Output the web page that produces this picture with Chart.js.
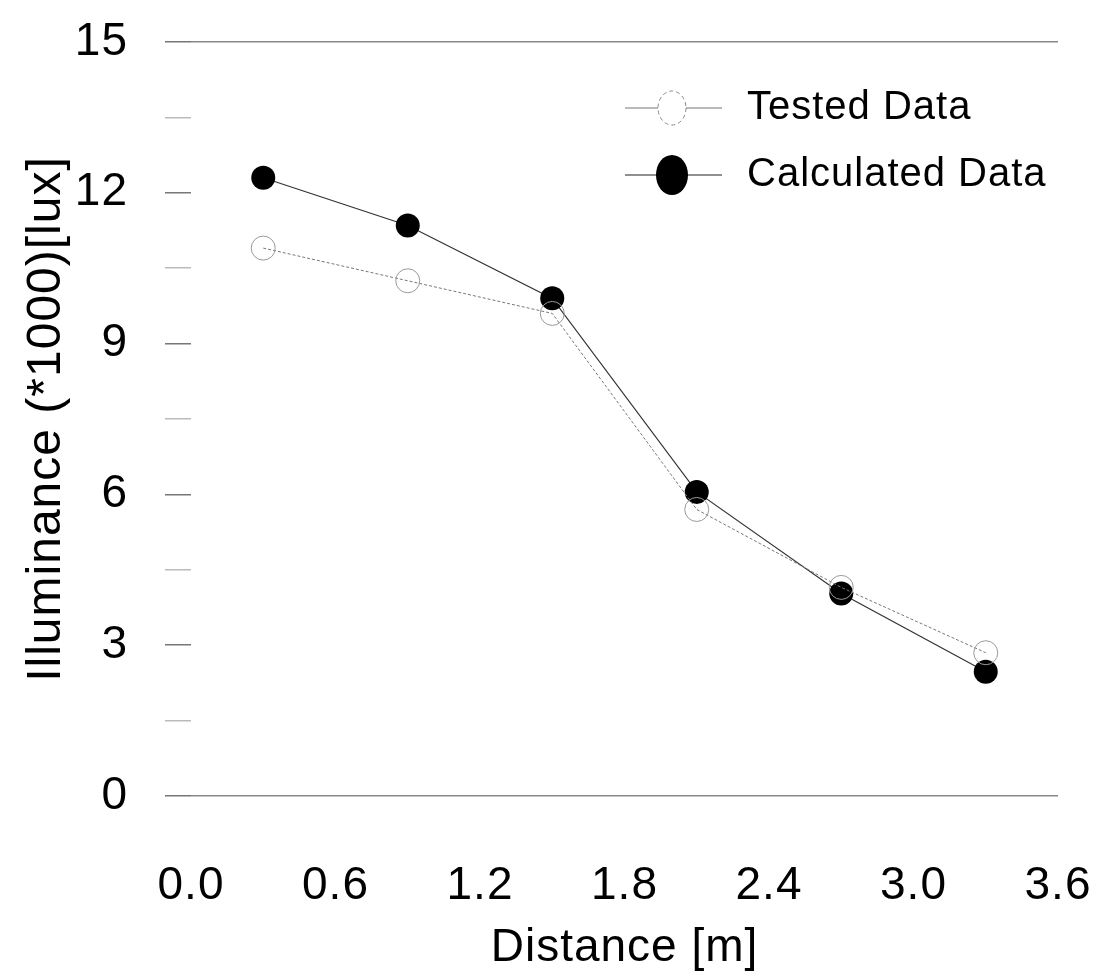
<!DOCTYPE html>
<html><head><meta charset="utf-8">
<script src="https://cdn.jsdelivr.net/npm/chart.js@4/dist/chart.umd.min.js"></script>
<style>html,body{margin:0;padding:0;background:#fff;}#wrap{width:1116px;height:971px;}</style>
</head><body><div id="wrap"><canvas id="c" width="1116" height="971"></canvas></div>
<script>
const distances = [0.3, 0.9, 1.5, 2.1, 2.7, 3.3];
const testedData = [10.9, 10.25, 9.6, 5.7, 4.15, 2.85];
const calculatedData = [12.3, 11.35, 9.9, 6.05, 4.03, 2.47];
const xTickLabels = ['0.0', '0.6', '1.2', '1.8', '2.4', '3.0', '3.6'];
const yTickLabels = ['0', '3', '6', '9', '12', '15'];
const seriesNames = ['Tested Data', 'Calculated Data'];
const xTitle = 'Distance [m]';
const yTitle = 'Illuminance (*1000)[lux]';

const tickFont = { family: '"Liberation Sans Narrow", "Liberation Sans", Arial, sans-serif', size: 46 };
const titleFamily = '"Liberation Sans", Arial, sans-serif';

const spacingPlugin = {
  id: 'spacing',
  beforeDraw(chart) { chart.ctx.letterSpacing = '1px'; }
};

const legendPlugin = {
  id: 'customLegend',
  afterDatasetsDraw(chart) {
    const ctx = chart.ctx, a = chart.chartArea;
    const rows = [a.top + 66, a.top + 133];
    ctx.save();
    chart.data.datasets.forEach((ds, i) => {
      const y = rows[i];
      const x0 = a.left + 434, x1 = a.left + 531, xm = a.left + 481;
      ctx.beginPath();
      ctx.strokeStyle = i === 0 ? '#777' : '#222';
      ctx.lineWidth = 1.2;
      ctx.setLineDash([]);
      ctx.moveTo(x0, y); ctx.lineTo(x1, y); ctx.stroke();
      ctx.beginPath();
      if (i === 0) {
        ctx.fillStyle = '#fff';
        ctx.ellipse(xm, y, 14, 17, 0, 0, Math.PI * 2);
        ctx.fill();
        ctx.setLineDash([4, 3]);
        ctx.strokeStyle = '#888';
        ctx.lineWidth = 1;
        ctx.stroke();
      } else {
        ctx.fillStyle = '#000';
        ctx.ellipse(xm, y, 16, 20, 0, 0, Math.PI * 2);
        ctx.fill();
      }
      ctx.setLineDash([]);
      ctx.fillStyle = '#000';
      ctx.font = '40px ' + titleFamily;
      ctx.textBaseline = 'middle';
      ctx.textAlign = 'left';
      ctx.fillText(ds.label, a.left + 556, y);
    });
    ctx.restore();
  }
};

new Chart(document.getElementById('c'), {
  type: 'line',
  data: {
    datasets: [
      {
        label: seriesNames[0],
        data: distances.map((x, i) => ({ x, y: testedData[i] })),
        borderColor: '#777',
        borderWidth: 1,
        borderDash: [3, 2],
        pointRadius: 12,
        pointBackgroundColor: 'rgba(255,255,255,0)',
        pointBorderColor: '#999',
        pointBorderWidth: 1,
        tension: 0
      },
      {
        label: seriesNames[1],
        data: distances.map((x, i) => ({ x, y: calculatedData[i] })),
        borderColor: '#333',
        borderWidth: 1.2,
        pointRadius: 12,
        pointBackgroundColor: '#000',
        pointBorderColor: '#000',
        pointBorderWidth: 0,
        tension: 0
      }
    ]
  },
  options: {
    responsive: false,
    animation: false,
    devicePixelRatio: 1,
    layout: { padding: { top: 42, right: 58, left: 0, bottom: 0 } },
    plugins: { legend: { display: false }, tooltip: { enabled: false } },
    scales: {
      x: {
        type: 'linear',
        min: 0, max: 3.6,
        afterFit(s) { s.height = 175; },
        border: { display: false },
        grid: { drawOnChartArea: false, drawTicks: true, tickLength: 50, tickColor: 'rgba(0,0,0,0)' },
        ticks: {
          stepSize: 0.6,
          padding: 13,
          color: '#000',
          font: tickFont,
          callback: (v, i) => xTickLabels[i]
        },
        title: {
          display: true, text: xTitle, color: '#000',
          font: { family: titleFamily, size: 46, lineHeight: 1 },
          padding: { top: 0, bottom: 0 }
        }
      },
      y: {
        min: 0, max: 15,
        afterFit(s) { s.width = 191; },
        border: { display: false },
        grid: {
          color: c => (c.tick && (c.tick.value === 0 || c.tick.value === 15)) ? '#888' : 'rgba(0,0,0,0)',
          tickColor: c => (c.tick && c.index % 2 === 0) ? '#777' : '#bbb',
          lineWidth: 1.5,
          tickLength: 50,
          tickBorderDash: [0, 24, 26, 0]
        },
        ticks: {
          stepSize: 1.5,
          padding: 13,
          color: '#000',
          font: tickFont,
          callback: (v, i) => (i % 2 === 0 ? yTickLabels[i / 2] : '')
        },
        title: {
          display: true, text: yTitle, color: '#000',
          font: { family: titleFamily, size: 48, lineHeight: 1 },
          padding: { top: 23, bottom: 0 }
        }
      }
    }
  },
  plugins: [spacingPlugin, legendPlugin]
});
</script></body></html>
